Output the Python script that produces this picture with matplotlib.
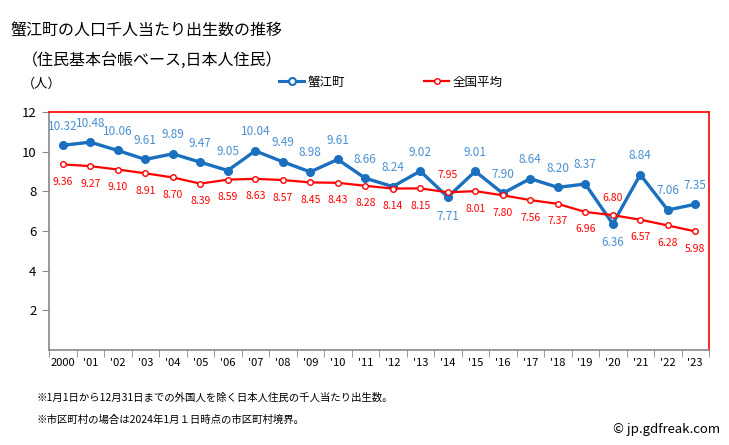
import matplotlib
matplotlib.use("Agg")
import matplotlib.pyplot as plt
import numpy as np
from matplotlib.lines import Line2D

plt.rcParams['font.family'] = ['Noto Sans CJK JP', 'DejaVu Sans']

years = ["2000", "'01", "'02", "'03", "'04", "'05", "'06", "'07", "'08", "'09", "'10", "'11",
         "'12", "'13", "'14", "'15", "'16", "'17", "'18", "'19", "'20", "'21", "'22", "'23"]
kanie = [10.32, 10.48, 10.06, 9.61, 9.89, 9.47, 9.05, 10.04, 9.49, 8.98, 9.61, 8.66,
         8.24, 9.02, 7.71, 9.01, 7.90, 8.64, 8.20, 8.37, 6.36, 8.84, 7.06, 7.35]
national = [9.36, 9.27, 9.10, 8.91, 8.70, 8.39, 8.59, 8.63, 8.57, 8.45, 8.43, 8.28,
            8.14, 8.15, 7.95, 8.01, 7.80, 7.56, 7.37, 6.96, 6.80, 6.57, 6.28, 5.98]
yticks = [2, 4, 6, 8, 10, 12]

fig = plt.figure(figsize=(7.29, 4.45), dpi=100)
ax = fig.add_axes([49/729, 95/445, 660/729, 238/445])

x = np.arange(len(years))
blue = '#1a6fbf'
blue_lbl = '#4a90d0'
red = '#ff0000'

ax.plot(x, kanie, color=blue, lw=2.4, marker='o', ms=5.5, mfc=blue, mec=blue, zorder=3)
ax.plot(x, national, color=red, lw=1.6, marker='o', ms=4, mfc='white', mec=red, mew=1, zorder=4)

for i, (k, n) in enumerate(zip(kanie, national)):
    if k >= n:
        ax.annotate(f"{k:.2f}", (i, k), xytext=(0, 9), textcoords='offset points',
                    ha='center', va='bottom', color=blue_lbl, fontsize=8.5)
        ax.annotate(f"{n:.2f}", (i, n), xytext=(0, -9), textcoords='offset points',
                    ha='center', va='top', color=red, fontsize=7.5)
    else:
        ax.annotate(f"{k:.2f}", (i, k), xytext=(0, -9), textcoords='offset points',
                    ha='center', va='top', color=blue_lbl, fontsize=8.5)
        ax.annotate(f"{n:.2f}", (i, n), xytext=(0, 9), textcoords='offset points',
                    ha='center', va='bottom', color=red, fontsize=7.5)

ax.set_xlim(-0.5, len(years) - 0.5)
ax.set_ylim(0, 12)
ax.set_yticks(yticks)
ax.set_yticklabels([str(v) for v in yticks], fontsize=9.5)
ax.set_xticks(x)
ax.set_xticklabels(years, fontsize=8)
ax.tick_params(axis='x', length=0, pad=6)
ax.set_xticks(np.arange(-0.5, len(years), 1), minor=True)
ax.tick_params(axis='x', which='minor', length=5, color='#888888', direction='out')
ax.tick_params(axis='y', length=5, color='#888888', direction='out', pad=4)

for s in ['top', 'right']:
    ax.spines[s].set_color(red)
    ax.spines[s].set_linewidth(1.2)
for s in ['left', 'bottom']:
    ax.spines[s].set_color('#888888')
    ax.spines[s].set_linewidth(1.2)

fig.text(10/729, 1 - 31/445, "蟹江町の人口千人当たり出生数の推移", fontsize=11.5, va='center', ha='left')
fig.text(22/729, 1 - 60/445, "（住民基本台帳ベース,日本人住民）", fontsize=11.5, va='center', ha='left')
fig.text(22/729, 1 - 84/445, "（人）", fontsize=9.5, va='center', ha='left')

h1 = Line2D([], [], color=blue, lw=2.2, marker='o', ms=5, mfc='white', mec=blue, mew=1.5)
h2 = Line2D([], [], color=red, lw=1.6, marker='o', ms=4, mfc='white', mec=red)
fig.legend([h1, h2], ["蟹江町", "全国平均"], loc='center left', bbox_to_anchor=(268/729, 1 - 82/445),
           ncol=2, frameon=False, fontsize=9, handlelength=2.0, columnspacing=6.3, handletextpad=0.3)

fig.text(37/729, 1 - 398/445, "※1月1日から12月31日までの外国人を除く日本人住民の千人当たり出生数。", fontsize=7.5, va='center')
fig.text(37/729, 1 - 420/445, "※市区町村の場合は2024年1月１日時点の市区町村境界。", fontsize=7.5, va='center')
fig.text(720/729, 1 - 430/445, "© jp.gdfreak.com", fontsize=9.5, va='center', ha='right')

fig.savefig("out.png", dpi=100)
